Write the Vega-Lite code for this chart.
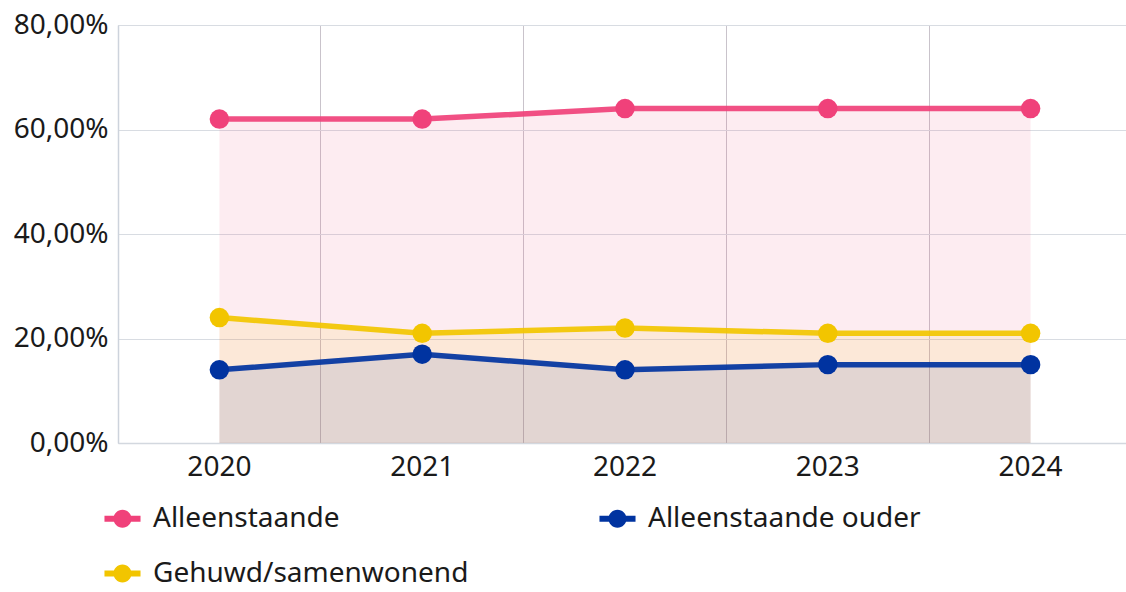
{
  "$schema": "https://vega.github.io/schema/vega-lite/v6.json",
  "autosize": {"type": "none"},
  "padding": {"left": 118, "top": 25, "right": 0, "bottom": 149},
  "width": 1014,
  "height": 418,
  "background": "white",
  "config": {
    "font": "Noto Sans",
    "view": {"stroke": null},
    "axis": {"labelFont": "Noto Sans", "labelFontSize": 28, "labelColor": "#1a1a1a", "ticks": false, "title": null}
  },
  "data": {
    "values": [
      {"year": "2020", "series": "Alleenstaande", "value": 62},
      {"year": "2021", "series": "Alleenstaande", "value": 62},
      {"year": "2022", "series": "Alleenstaande", "value": 64},
      {"year": "2023", "series": "Alleenstaande", "value": 64},
      {"year": "2024", "series": "Alleenstaande", "value": 64},
      {"year": "2020", "series": "Gehuwd/samenwonend", "value": 24},
      {"year": "2021", "series": "Gehuwd/samenwonend", "value": 21},
      {"year": "2022", "series": "Gehuwd/samenwonend", "value": 22},
      {"year": "2023", "series": "Gehuwd/samenwonend", "value": 21},
      {"year": "2024", "series": "Gehuwd/samenwonend", "value": 21},
      {"year": "2020", "series": "Alleenstaande ouder", "value": 14},
      {"year": "2021", "series": "Alleenstaande ouder", "value": 17},
      {"year": "2022", "series": "Alleenstaande ouder", "value": 14},
      {"year": "2023", "series": "Alleenstaande ouder", "value": 15},
      {"year": "2024", "series": "Alleenstaande ouder", "value": 15}
    ]
  },
  "encoding": {
    "x": {
      "field": "year",
      "type": "ordinal",
      "scale": {"type": "band", "paddingInner": 0, "paddingOuter": 0},
      "axis": {
        "labelAngle": 0,
        "grid": true,
        "gridColor": "#c9c3cb",
        "gridWidth": 1,
        "bandPosition": 0,
        "labelPadding": 10,
        "labelBound": false,
        "labelOverlap": false,
        "domainColor": "#d3d8df",
        "domainWidth": 1.5
      }
    },
    "y": {
      "field": "value",
      "type": "quantitative",
      "stack": null,
      "scale": {"domain": [0, 80], "nice": false},
      "axis": {
        "values": [0, 20, 40, 60, 80],
        "labelExpr": "replace(format(datum.value, '.2f'), '.', ',') + '%'",
        "grid": true,
        "gridColor": "#d8dce2",
        "gridWidth": 1,
        "domainColor": "#cdd3dc",
        "domainWidth": 1.5,
        "labelPadding": 10
      }
    },
    "color": {
      "field": "series",
      "type": "nominal",
      "scale": {
        "domain": ["Alleenstaande", "Alleenstaande ouder", "Gehuwd/samenwonend"],
        "range": ["#f0417a", "#0033a0", "#f2c500"]
      },
      "legend": {
        "orient": "none",
        "legendX": -14,
        "legendY": 475,
        "direction": "horizontal",
        "columns": 2,
        "columnPadding": 130,
        "rowPadding": 22,
        "title": null,
        "labelFont": "Noto Sans",
        "labelFontSize": 28,
        "labelColor": "#1a1a1a",
        "labelOffset": 12,
        "labelLimit": 500,
        "symbolType": "M-1,-0.16H1V0.16H-1Z M0.5,0 A0.5,0.5 0 1,1 -0.5,0 A0.5,0.5 0 1,1 0.5,0 Z",
        "symbolSize": 1300,
        "symbolStrokeWidth": 0,
        "symbolOpacity": 1
      }
    }
  },
  "layer": [
    {
      "mark": {"type": "area", "opacity": 0.1},
      "encoding": {}
    },
    {
      "mark": {"type": "line", "strokeWidth": 5.5, "opacity": 0.92},
      "encoding": {}
    },
    {
      "mark": {"type": "point", "filled": true, "size": 380, "opacity": 1, "shape": "circle"},
      "encoding": {}
    }
  ]
}
